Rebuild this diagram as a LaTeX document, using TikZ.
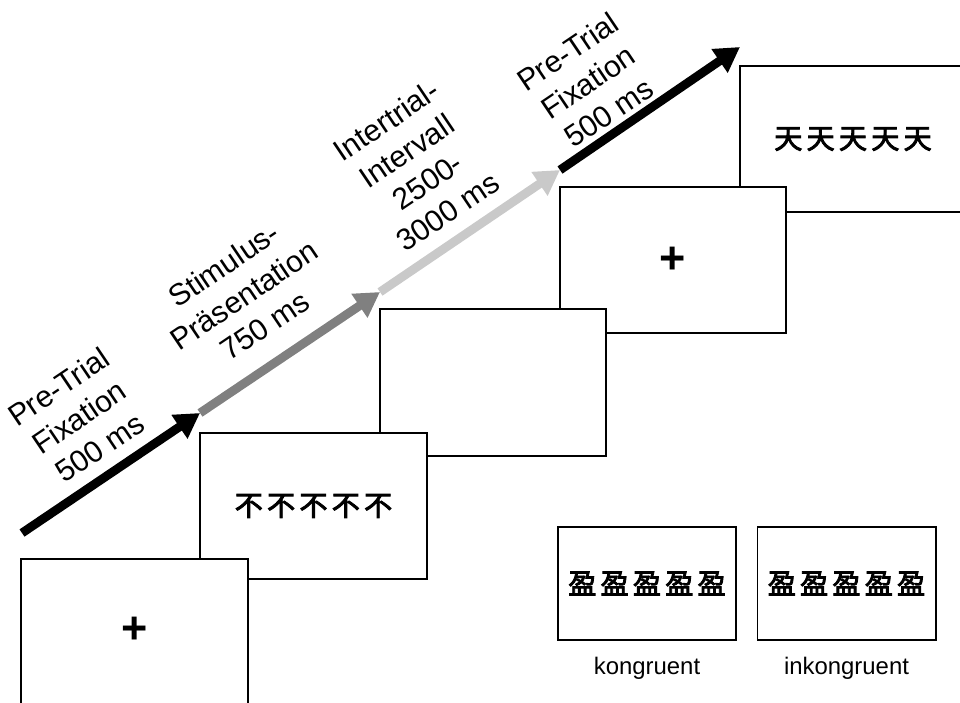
\documentclass[tikz,border=0pt]{standalone}
\usepackage{fontspec}
\setmainfont{Liberation Sans}
\newfontfamily\cjk[FakeBold=3]{Noto Sans CJK SC}
\usetikzlibrary{arrows.meta}

\definecolor{midgrey}{gray}{0.50}
\definecolor{paleGrey}{gray}{0.79}

% five characters in a row, the middle one may differ
\newcommand\flankrow[2]{#1\hspace{0.15em}#1\hspace{0.15em}#2\hspace{0.15em}#1\hspace{0.15em}#1}

\tikzset{
  screen/.style={draw, line width=1.4pt, fill=white, inner sep=0pt,
    minimum width=5.65cm, minimum height=3.65cm},
  smallscreen/.style={draw, line width=1.4pt, fill=white, inner sep=0pt,
    minimum width=4.45cm, minimum height=2.83cm},
  timeline/.style={line width=0.22cm, -{Triangle[length=0.62cm,width=0.68cm]}},
  phase/.style={rotate=34, align=center, inner sep=0pt,
    font=\fontsize{21.5}{26}\selectfont},
  fixcross/.style={font=\fontsize{32}{32}\selectfont\bfseries},
  chars/.style={font=\fontsize{20}{22}\selectfont\cjk},
  caption/.style={font=\fontsize{17}{20}\selectfont}
}

\begin{document}
\begin{tikzpicture}[x=0.025cm, y=-0.025cm]
                \clip (0, 0) rectangle (960, 703);

                % time line
                \coordinate (t0) at (22, 533);
                \coordinate (t1) at (200, 413);
                \coordinate (t2) at (380, 292);
                \coordinate (t3) at (560, 170);
                \coordinate (t4) at (740, 47);

                \draw [timeline, black] (t0) to (t1);
                \draw [timeline, midgrey] (t1) to (t2);
                \draw [timeline, paleGrey] (t2) to (t3);
                \draw [timeline, black] (t3) to (t4);

                \node [phase] (fixa) at (79, 417) {Pre-Trial\\Fixation\\500 ms};
                \node [phase] (stim) at (244, 295) {Stimulus-\\Präsentation\\750 ms};
                \node [phase] (iti) at (417, 166) {Intertrial-\\Intervall\\2500-\\3000 ms};
                \node [phase] (fixb) at (588, 82) {Pre-Trial\\Fixation\\500 ms};

                % screens, back to front
                \node [screen] (scre) at (853, 139) {};
                \node [chars] at (scre.center) {\flankrow{天}{天}};
                \node [screen] (scrd) at (673, 260) {};
                \node [fixcross] at (scrd.center) {+};
                \node [screen] (scrc) at (493, 382.5) {};
                \node [screen] (scrb) at (313.5, 506) {};
                \node [chars] at (scrb.center) {\flankrow{不}{不}};
                \node [screen] (scra) at (134.5, 632) {};
                \node [fixcross] at (134.5, 630) {+};

                % examples
                \node [smallscreen] (kong) at (647, 583.5) {};
                \node [chars] at (kong.center) {\flankrow{盈}{盈}};
                \node [smallscreen] (inkong) at (846.5, 583.5) {};
                \node [chars] at (inkong.center) {\flankrow{盈}{盈}};

                \node [caption] (kongtxt) at (647, 668) {kongruent};
                \node [caption] (inkongtxt) at (846.5, 668) {inkongruent};
            \end{tikzpicture}
\end{document}
